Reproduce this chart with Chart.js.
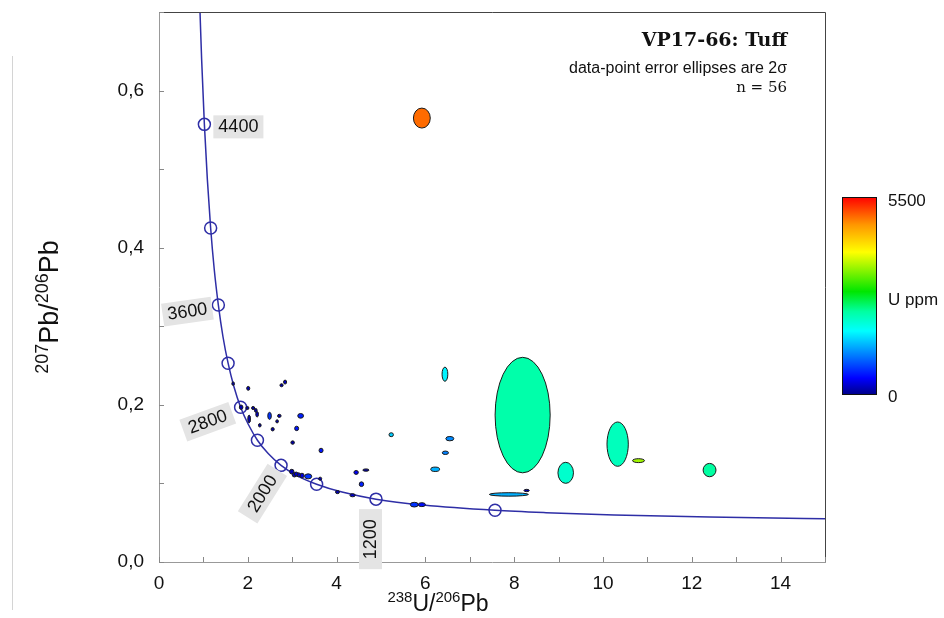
<!DOCTYPE html>
<html>
<head>
<meta charset="utf-8">
<script src="https://cdn.jsdelivr.net/npm/chart.js@4.4.0/dist/chart.umd.min.js"></script>
<style>
  html, body { margin: 0; padding: 0; background: #fff; }
  #wrap { width: 944px; height: 618px; position: relative; }
</style>
</head>
<body>
<div id="wrap"><canvas id="c"></canvas></div>
<script>
// concordia curve (238U/206Pb, 207Pb/206Pb)
const curveX = [0.918, 0.932, 0.960, 1.022, 1.089, 1.163, 1.245, 1.337, 1.440, 1.556, 1.688, 1.838, 2.013, 2.217, 2.459, 2.749, 3.104, 3.550, 4.122, 4.888, 5.959, 7.568, 8.718, 10.252, 12.399, 15.62];
const curveY = [0.710, 0.686, 0.640, 0.557, 0.487, 0.425, 0.372, 0.327, 0.287, 0.253, 0.223, 0.197, 0.175, 0.155, 0.138, 0.123, 0.110, 0.099, 0.089, 0.080, 0.0725, 0.0658, 0.0628, 0.0599, 0.0572, 0.0547];

// age markers on the concordia (Ma)
const markerAge = [4400, 4000, 3600, 3200, 2800, 2400, 2000, 1600, 1200, 800];
const markerX = [1.022, 1.163, 1.337, 1.556, 1.838, 2.217, 2.749, 3.550, 4.888, 7.568];
const markerY = [0.557, 0.425, 0.327, 0.253, 0.197, 0.155, 0.123, 0.099, 0.080, 0.0658];

// zircon spots: centre, 2 sigma half-widths, U ppm
const spotX  = [1.67, 2.01, 2.76, 2.84, 1.85, 1.99, 2.12, 2.18, 2.21, 2.03, 2.27, 2.49, 2.71, 2.66, 2.56, 3.19, 3.10, 3.01, 3.65, 2.99, 3.05, 3.14, 3.36, 3.63, 4.02, 4.36, 4.44, 4.66, 4.56, 5.23, 5.75, 5.92, 6.44, 6.55, 6.45, 6.22, 7.88, 8.28, 8.19, 9.16, 10.33, 10.80, 12.40, 5.92, 3.09, 3.22];
const spotY  = [0.227, 0.221, 0.225, 0.229, 0.197, 0.196, 0.196, 0.193, 0.188, 0.182, 0.174, 0.186, 0.186, 0.179, 0.169, 0.186, 0.170, 0.152, 0.142, 0.115, 0.111, 0.111, 0.109, 0.106, 0.089, 0.085, 0.114, 0.117, 0.099, 0.162, 0.073, 0.073, 0.239, 0.157, 0.139, 0.118, 0.086, 0.091, 0.187, 0.1135, 0.150, 0.129, 0.117, 0.565, 0.112, 0.110];
const spotSX = [0.03, 0.035, 0.035, 0.035, 0.04, 0.035, 0.035, 0.03, 0.03, 0.03, 0.03, 0.04, 0.04, 0.03, 0.035, 0.065, 0.045, 0.04, 0.045, 0.05, 0.05, 0.05, 0.08, 0.035, 0.045, 0.06, 0.05, 0.07, 0.05, 0.05, 0.09, 0.08, 0.065, 0.09, 0.07, 0.10, 0.44, 0.06, 0.62, 0.175, 0.24, 0.135, 0.145, 0.19, 0.04, 0.05];
const spotSY = [0.0022, 0.0025, 0.002, 0.0025, 0.0028, 0.002, 0.002, 0.0025, 0.0035, 0.005, 0.0022, 0.0045, 0.002, 0.002, 0.0022, 0.003, 0.0028, 0.0022, 0.0028, 0.003, 0.0028, 0.0025, 0.0032, 0.002, 0.002, 0.002, 0.0025, 0.0015, 0.003, 0.0025, 0.003, 0.0025, 0.009, 0.0028, 0.0022, 0.0028, 0.0022, 0.0015, 0.0735, 0.0134, 0.0282, 0.0025, 0.0085, 0.0127, 0.0025, 0.003];
const spotU  = [100, 150, 100, 200, 150, 100, 100, 150, 200, 200, 100, 700, 150, 100, 100, 600, 550, 100, 550, 150, 200, 250, 700, 150, 150, 200, 400, 100, 600, 1500, 700, 500, 1700, 1150, 1100, 1350, 1350, 100, 2250, 2050, 2150, 3550, 2300, 4950, 250, 300];

const uMax = 5500;
const xTitleParts = [["238", true], ["U/", false], ["206", true], ["Pb", false]];
const yTitleParts = [["207", true], ["Pb/", false], ["206", true], ["Pb", false]];

// colour scale of the U ppm bar
const colorStops = [
  [0, [0, 0, 140]], [0.08, [0, 0, 255]], [0.32, [0, 255, 255]], [0.42, [0, 255, 160]],
  [0.52, [0, 230, 0]], [0.72, [255, 255, 0]], [0.86, [255, 150, 0]], [1, [255, 0, 0]]
];
function uColor(t) {
  t = Math.max(0, Math.min(1, t));
  for (let i = 1; i < colorStops.length; i++) {
    const a = colorStops[i - 1], b = colorStops[i];
    if (t <= b[0]) {
      const f = (t - a[0]) / (b[0] - a[0]);
      const c = a[1].map((v, k) => Math.round(v + (b[1][k] - v) * f));
      return "rgb(" + c.join(",") + ")";
    }
  }
  return "rgb(255,0,0)";
}

// age label placement relative to its marker
const ageLabelStyle = {
  4400: { dx: 34, dy: 2, rot: 0, pad: 5 },
  3600: { dx: -31, dy: 6, rot: -8, pad: 5 },
  2800: { dx: -33, dy: 14, rot: -20, pad: 6 },
  2000: { dx: -19, dy: 28, rot: -58, pad: 8 },
  1200: { dx: -6, dy: 40, rot: -90, pad: 10 }
};

const SANS = "'Liberation Sans', Arial, sans-serif";
const SERIF = "'DejaVu Serif', 'Liberation Serif', serif";

function drawSupText(ctx, parts, big, small, raise) {
  let w = 0;
  parts.forEach(p => { ctx.font = (p[1] ? small : big) + "px " + SANS; w += ctx.measureText(p[0]).width; });
  let x = -w / 2;
  ctx.textAlign = "left";
  ctx.textBaseline = "alphabetic";
  parts.forEach(p => {
    ctx.font = (p[1] ? small : big) + "px " + SANS;
    ctx.fillText(p[0], x, p[1] ? -raise : 0);
    x += ctx.measureText(p[0]).width;
  });
}

const overlay = {
  id: "overlay",
  afterDatasetsDraw(chart) {
    const ctx = chart.ctx, xs = chart.scales.x, ys = chart.scales.y, a = chart.chartArea;
    ctx.save();
    ctx.beginPath();
    ctx.rect(a.left, a.top, a.right - a.left, a.bottom - a.top);
    ctx.clip();
    // draw big ellipses first so small ones stay visible
    const order = spotX.map((v, i) => i).sort((i, j) => spotSX[j] * spotSY[j] - spotSX[i] * spotSY[i]);
    order.forEach(i => {
      const cx = xs.getPixelForValue(spotX[i]);
      const cy = ys.getPixelForValue(spotY[i]);
      const rx = Math.abs(xs.getPixelForValue(spotX[i] + spotSX[i]) - cx);
      const ry = Math.abs(ys.getPixelForValue(spotY[i] + spotSY[i]) - cy);
      ctx.beginPath();
      ctx.ellipse(cx, cy, rx, ry, 0, 0, Math.PI * 2);
      ctx.fillStyle = uColor(spotU[i] / uMax);
      ctx.fill();
      ctx.lineWidth = 1;
      ctx.strokeStyle = "#1a1a1a";
      ctx.stroke();
    });
    ctx.restore();
  },
  afterDraw(chart) {
    const ctx = chart.ctx, xs = chart.scales.x, ys = chart.scales.y, a = chart.chartArea;
    ctx.save();

    // frame: top and right in dark grey
    ctx.strokeStyle = "#444";
    ctx.lineWidth = 1;
    ctx.beginPath();
    ctx.moveTo(a.left, a.top + 0.5);
    ctx.lineTo(a.right + 0.5, a.top + 0.5);
    ctx.lineTo(a.right + 0.5, a.bottom);
    ctx.stroke();

    // inward tick marks
    ctx.strokeStyle = "#888";
    ctx.beginPath();
    xs.ticks.forEach(t => {
      const px = Math.round(xs.getPixelForValue(t.value)) + 0.5;
      ctx.moveTo(px, a.bottom);
      ctx.lineTo(px, a.bottom - 5);
    });
    ys.ticks.forEach(t => {
      const py = Math.round(ys.getPixelForValue(t.value)) + 0.5;
      ctx.moveTo(a.left, py);
      ctx.lineTo(a.left + 5, py);
    });
    ctx.stroke();

    // stray rule at far left
    ctx.strokeStyle = "#d4d4d4";
    ctx.beginPath();
    ctx.moveTo(12.5, 56);
    ctx.lineTo(12.5, 610);
    ctx.stroke();

    // age labels on concordia
    markerAge.forEach((age, i) => {
      const st = ageLabelStyle[age];
      if (!st) return;
      const px = xs.getPixelForValue(markerX[i]) + st.dx;
      const py = ys.getPixelForValue(markerY[i]) + st.dy;
      ctx.save();
      ctx.translate(px, py);
      ctx.rotate(st.rot * Math.PI / 180);
      ctx.font = "18px " + SANS;
      const w = ctx.measureText(String(age)).width;
      ctx.fillStyle = "#e4e4e4";
      ctx.fillRect(-w / 2 - st.pad, -11, w + 2 * st.pad, 23);
      ctx.fillStyle = "#111";
      ctx.textAlign = "center";
      ctx.textBaseline = "middle";
      ctx.fillText(String(age), 0, 1);
      ctx.restore();
    });

    // header texts
    ctx.fillStyle = "#111";
    ctx.textAlign = "right";
    ctx.textBaseline = "alphabetic";
    ctx.font = "bold 19px " + SERIF;
    ctx.fillText("VP17-66: Tuff", 787, 46);
    ctx.font = "16px " + SANS;
    ctx.fillText("data-point error ellipses are 2\u03C3", 787, 73);
    ctx.font = "15px " + SERIF;
    ctx.fillText("n = 56", 787, 92);

    // axis titles
    ctx.fillStyle = "#111";
    ctx.save();
    ctx.translate(438, 611);
    drawSupText(ctx, xTitleParts, 23, 15, 9);
    ctx.restore();
    ctx.save();
    ctx.translate(58, 307);
    ctx.rotate(-Math.PI / 2);
    drawSupText(ctx, yTitleParts, 27, 18, 10);
    ctx.restore();

    // U ppm colour bar
    const bx = 842, bt = 197, bw = 34, bh = 197;
    const g = ctx.createLinearGradient(0, bt + bh, 0, bt);
    colorStops.forEach(s => g.addColorStop(s[0], uColor(s[0])));
    ctx.fillStyle = g;
    ctx.fillRect(bx, bt, bw, bh);
    ctx.strokeStyle = "#111";
    ctx.lineWidth = 1;
    ctx.strokeRect(bx + 0.5, bt + 0.5, bw, bh);
    ctx.fillStyle = "#111";
    ctx.font = "17px " + SANS;
    ctx.textAlign = "left";
    ctx.textBaseline = "middle";
    ctx.fillText(String(uMax), 888, 201);
    ctx.fillText("U ppm", 888, 300);
    ctx.fillText("0", 888, 397);

    ctx.restore();
  }
};

const ctx = document.getElementById("c");
new Chart(ctx, {
  type: "scatter",
  data: {
    datasets: [
      {
        type: "line",
        label: "concordia",
        data: curveX.map((x, i) => ({ x: x, y: curveY[i] })),
        borderColor: "#2e2ea6",
        borderWidth: 1.5,
        pointRadius: 0,
        cubicInterpolationMode: "monotone",
        fill: false
      },
      {
        label: "ages",
        data: markerX.map((x, i) => ({ x: x, y: markerY[i] })),
        pointRadius: 6,
        pointBackgroundColor: "#fff",
        pointBorderColor: "#2e2ea6",
        pointBorderWidth: 1.5
      }
    ]
  },
  options: {
    responsive: true,
    maintainAspectRatio: false,
    animation: false,
    layout: { padding: { top: 12, right: 119, left: 0, bottom: 0 } },
    plugins: { legend: { display: false }, tooltip: { enabled: false } },
    scales: {
      x: {
        type: "linear",
        min: 0, max: 15,
        afterFit: s => { s.height = 56; s.paddingLeft = 0; s.paddingRight = 0; },
        grid: { display: false, drawTicks: false },
        border: { display: true, color: "#999", width: 1 },
        ticks: {
          stepSize: 1,
          padding: 10,
          color: "#111",
          font: { family: SANS, size: 19 },
          maxRotation: 0,
          autoSkip: false,
          callback: v => (Math.round(v) % 2 === 0 ? String(v) : "")
        }
      },
      y: {
        type: "linear",
        min: 0, max: 0.7,
        afterFit: s => { s.width = 159; s.paddingTop = 0; s.paddingBottom = 0; },
        grid: { display: false, drawTicks: false },
        border: { display: true, color: "#999", width: 1 },
        ticks: {
          stepSize: 0.1,
          padding: 15,
          color: "#111",
          font: { family: SANS, size: 19 },
          autoSkip: false,
          callback: v => {
            const k = Math.round(v * 10);
            return (k % 2 === 0 && k < 7) ? (k / 10).toFixed(1).replace(".", ",") : "";
          }
        }
      }
    }
  },
  plugins: [overlay]
});
</script>
</body>
</html>
